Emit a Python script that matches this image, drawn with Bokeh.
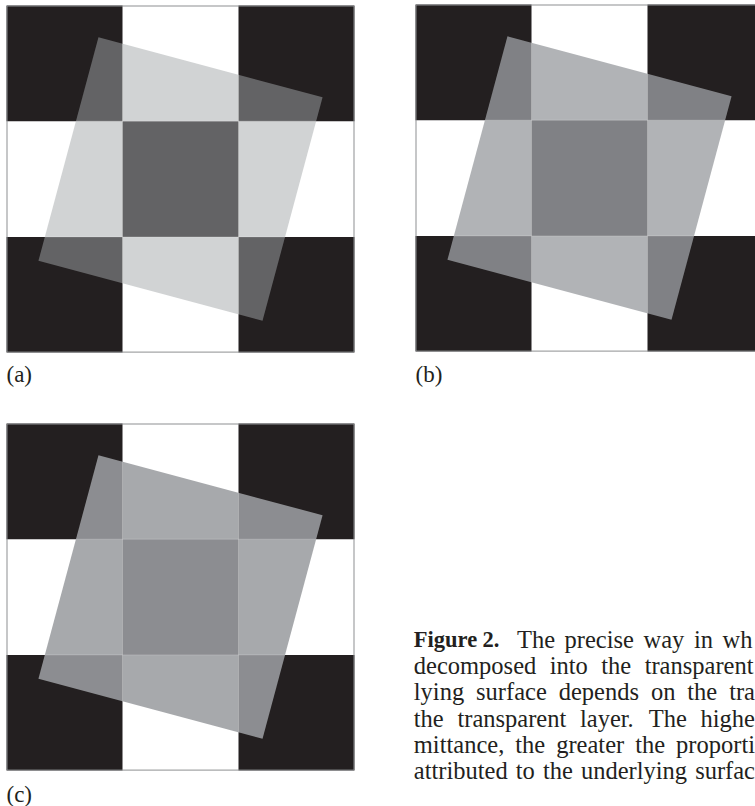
import math
from bokeh.plotting import figure
from bokeh.models import Range1d, ColumnDataSource
from bokeh.embed import file_html
from bokeh.resources import INLINE
from bokeh.core.properties import value

# ---------------- data ----------------
PANEL_LABELS = ["(a)", "(b)", "(c)"]
# background checkerboard, rows top -> bottom (1 = black, 0 = white)
CHECKER = [[1, 0, 1],
           [0, 1, 0],
           [1, 0, 1]]
# observed appearance of the transparent layer in each panel
LAYER_OVER_WHITE = ["#d1d3d4", "#b1b3b6", "#a7a9ac"]
LAYER_OVER_BLACK = ["#636466", "#808285", "#8c8e91"]
BLACK = "#231f20"
WHITE = "#ffffff"
LAYER_SIDE_CELLS = 2.0        # side of the transparent square, in cells
LAYER_ROTATION_DEG = 15.0     # clockwise rotation of the square

CAPTION_LINES = [
    "Figure 2. The precise way in wh",
    "decomposed into the transparent",
    "lying surface depends on the tra",
    "the transparent layer. The highe",
    "mittance, the greater the proporti",
    "attributed to the underlying surfac",
]
CAPTION_BOLD_WORDS = 2  # "Figure 2." is bold

# ---------------- layout (page pixels) ----------------
PAGE_W, PAGE_H = 755, 806
PANEL_ORIGIN = [(6.0, 5.0), (415.0, 4.0), (6.0, 423.0)]
CELL_W, CELL_H = 116.0, 115.7
LABEL_X = [6.0, 415.0, 6.0]
LABEL_BASELINE = [373.5, 373.5, 793.5]
LABEL_SIZE = 23.0
CAPTION_LEFT = 413.3
CAPTION_LINE_END = [752.0, 753.0, 754.5, 754.5, 754.5, 754.5]
CAPTION_BASELINE0 = 638.5
CAPTION_LEADING = 26.35
CAPTION_SIZE = 24.5
CAPTION_BOLD_SIZE = 22.5
# fixed gaps after "Figure" and after "2." (px)
LINE0_FIXED_GAPS = [5.0, 17.5]

SERIF = value("Liberation Serif")

# Times / Liberation Serif advance widths (1/1000 em)
W_REG = dict(a=444, b=500, c=444, d=500, e=444, f=333, g=500, h=500, i=278,
             l=278, m=778, n=500, o=500, p=500, r=333, s=389, t=278, u=500,
             w=722, y=500, x=500, T=611, F=556)
W_REG.update({",": 250, ".": 250, " ": 250})
W_BOLD = dict(F=611, i=278, g=500, u=556, r=444, e=444)
W_BOLD.update({"2": 500, ".": 250, " ": 250})


def text_width(word, bold):
    table = W_BOLD if bold else W_REG
    size = CAPTION_BOLD_SIZE if bold else CAPTION_SIZE
    return sum(table.get(ch, 500) for ch in word) / 1000.0 * size


def hex_rgb(h):
    h = h.lstrip("#")
    return [int(h[i:i + 2], 16) for i in (0, 2, 4)]


def layer_paint(over_white, over_black):
    """Recover transmittance t and layer colour from the two composites."""
    w, b, k = hex_rgb(over_white), hex_rgb(over_black), hex_rgb(BLACK)
    ts = [(w[i] - b[i]) / (255.0 - k[i]) for i in range(3)]
    t = sum(ts) / 3.0
    col = [max(0, min(255, round((w[i] - t * 255.0) / (1.0 - t)))) for i in range(3)]
    return 1.0 - t, "#%02x%02x%02x" % tuple(col)


def clip_line_to_poly(p0, p1, poly):
    """Clip segment p0-p1 to a convex polygon (Cyrus-Beck)."""
    n = len(poly)
    area = sum(poly[i][0] * poly[(i + 1) % n][1] - poly[(i + 1) % n][0] * poly[i][1]
               for i in range(n))
    sgn = 1.0 if area > 0 else -1.0
    t0, t1 = 0.0, 1.0
    dx, dy = p1[0] - p0[0], p1[1] - p0[1]
    for i in range(n):
        ax, ay = poly[i]
        bx, by = poly[(i + 1) % n]
        ex, ey = bx - ax, by - ay
        num = sgn * (ex * (p0[1] - ay) - ey * (p0[0] - ax))
        den = sgn * (ex * dy - ey * dx)
        if abs(den) < 1e-12:
            if num < 0:
                return None
            continue
        t = -num / den
        if den > 0:
            t0 = max(t0, t)
        else:
            t1 = min(t1, t)
    if t0 >= t1:
        return None
    return ((p0[0] + t0 * dx, p0[1] + t0 * dy), (p0[0] + t1 * dx, p0[1] + t1 * dy))


p = figure(width=PAGE_W, height=PAGE_H,
           x_range=Range1d(0, PAGE_W), y_range=Range1d(PAGE_H, 0),
           output_backend="svg", toolbar_location=None,
           x_axis_location=None, y_axis_location=None,
           min_border=0, background_fill_color="white",
           border_fill_color="white")
p.grid.visible = False
p.outline_line_color = None

for k, (ox, oy) in enumerate(PANEL_ORIGIN):
    ncols, nrows = len(CHECKER[0]), len(CHECKER)
    blk = dict(left=[], right=[], top=[], bottom=[])
    wht = dict(left=[], right=[], top=[], bottom=[])
    for r, row in enumerate(CHECKER):
        for c, cell in enumerate(row):
            d = blk if cell == 1 else wht
            d["left"].append(ox + c * CELL_W)
            d["right"].append(ox + (c + 1) * CELL_W)
            d["top"].append(oy + r * CELL_H)
            d["bottom"].append(oy + (r + 1) * CELL_H)
    p.quad(source=ColumnDataSource(wht), fill_color=WHITE, line_color=None)
    p.quad(source=ColumnDataSource(blk), fill_color=BLACK, line_color=None)
    p.quad(left=[ox + 0.5], right=[ox + ncols * CELL_W - 0.5],
           top=[oy + 0.5], bottom=[oy + nrows * CELL_H - 0.5],
           fill_color=None, line_color="#8d8f91", line_width=1)

    # rotated transparent square
    alpha, col = layer_paint(LAYER_OVER_WHITE[k], LAYER_OVER_BLACK[k])
    cx, cy = ncols / 2.0, nrows / 2.0
    hs = LAYER_SIDE_CELLS / 2.0
    th = math.radians(LAYER_ROTATION_DEG)
    poly = []
    for (u, v) in [(-hs, -hs), (hs, -hs), (hs, hs), (-hs, hs)]:
        ru = u * math.cos(th) - v * math.sin(th)
        rv = u * math.sin(th) + v * math.cos(th)
        poly.append((ox + (cx + ru) * CELL_W, oy + (cy + rv) * CELL_H))
    p.patch([q[0] for q in poly], [q[1] for q in poly],
            fill_color=col, fill_alpha=alpha, line_color=None)

    # faint seams where the layer crosses the cell boundaries
    segs_x, segs_y = [], []
    for c in range(1, ncols):
        X = ox + c * CELL_W
        s = clip_line_to_poly((X, oy), (X, oy + nrows * CELL_H), poly)
        if s:
            segs_x.append([s[0][0], s[1][0]])
            segs_y.append([s[0][1], s[1][1]])
    for r in range(1, nrows):
        Y = oy + r * CELL_H
        s = clip_line_to_poly((ox, Y), (ox + ncols * CELL_W, Y), poly)
        if s:
            segs_x.append([s[0][0], s[1][0]])
            segs_y.append([s[0][1], s[1][1]])
    p.multi_line(segs_x, segs_y, line_color="white", line_alpha=0.2, line_width=1)

    p.text(x=[LABEL_X[k]], y=[LABEL_BASELINE[k]], text=[PANEL_LABELS[k]],
           text_font=SERIF, text_font_size="%gpx" % LABEL_SIZE, text_color=BLACK,
           text_baseline="alphabetic", text_align="left")

# caption: justified lines, words placed by font metrics
reg = dict(x=[], y=[], text=[])
bld = dict(x=[], y=[], text=[])
for i, line in enumerate(CAPTION_LINES):
    words = line.split(" ")
    bold = [(i == 0 and j < CAPTION_BOLD_WORDS) for j in range(len(words))]
    widths = [text_width(w, b) for w, b in zip(words, bold)]
    ngaps = len(words) - 1
    fixed = LINE0_FIXED_GAPS if i == 0 else []
    free = ngaps - len(fixed)
    span = CAPTION_LINE_END[i] - CAPTION_LEFT
    gap = (span - sum(widths) - sum(fixed)) / free
    gaps = list(fixed) + [gap] * free
    yb = CAPTION_BASELINE0 + i * CAPTION_LEADING
    x = CAPTION_LEFT
    for j, w in enumerate(words):
        d = bld if bold[j] else reg
        d["x"].append(x)
        d["y"].append(yb)
        d["text"].append(w)
        if j < ngaps:
            x += widths[j] + gaps[j]

p.text(x="x", y="y", text="text", source=ColumnDataSource(reg),
       text_font=SERIF, text_font_size="%gpx" % CAPTION_SIZE,
       text_color=BLACK, text_baseline="alphabetic", text_align="left")
p.text(x="x", y="y", text="text", source=ColumnDataSource(bld),
       text_font=SERIF, text_font_size="%gpx" % CAPTION_BOLD_SIZE,
       text_font_style="bold",
       text_color=BLACK, text_baseline="alphabetic", text_align="left")

open("out.html", "w").write(file_html(p, INLINE))
